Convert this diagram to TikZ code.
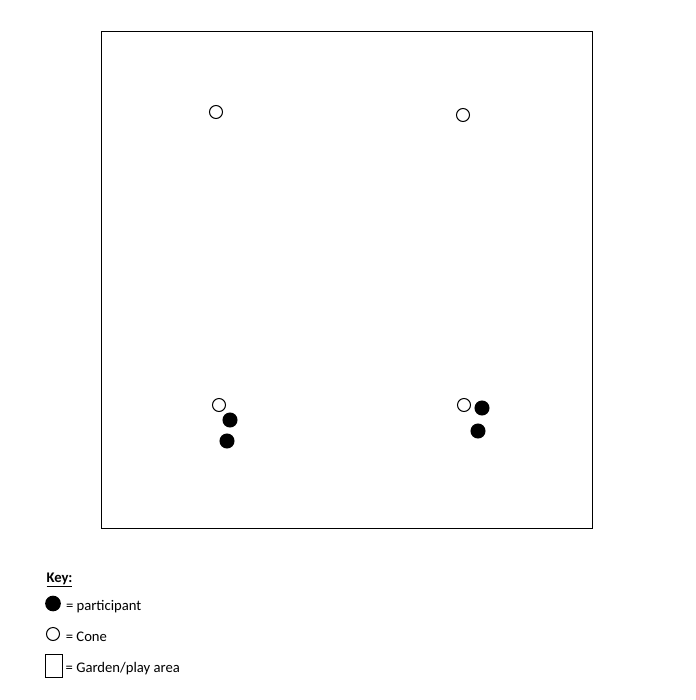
\documentclass[tikz,border=0pt]{standalone}
\usepackage{fontspec}
\setmainfont{Carlito}
\usetikzlibrary{positioning}
\begin{document}
\begin{tikzpicture}[x=0.75pt,y=-0.75pt,line width=0.75pt,
        font=\fontsize{11}{13}\selectfont]
        \tikzstyle{cone}=[circle,draw=black,fill=white,minimum size=9.75pt,inner sep=0pt]
        \tikzstyle{participant}=[circle,draw=black,fill=black,minimum size=10.5pt,inner sep=0pt]
        \tikzstyle{area}=[draw=black,inner sep=0pt]
        \tikzstyle{keytext}=[inner sep=0pt,yshift=-2.25pt]

        \useasboundingbox (0,0) rectangle (696,700);

        % Draw the garden/play area
        \node[area, minimum width=368.25pt, minimum height=372.75pt]
            (garden) at (346.5,279.5) {};

        % Draw the cones
        \foreach \id / \x / \y in {1/216/112, 2/463/115, 3/219/405, 4/464/405}
            \node[cone] (C-\id) at (\x,\y) {};

        % Draw the participants
        \foreach \id / \x / \y in {1/230/420, 2/227/441, 3/482/408, 4/478/431}
            \node[participant] (P-\id) at (\x,\y) {};

        % Key
        \node[keytext, anchor=west] (key) at (46,577) {\textbf{\underline{Key:}}};
        \node[participant, minimum size=11pt] (kP) at (53,603.5) {};
        \node[keytext, right=3.5pt of kP] {= participant};
        \node[cone] (kC) at (53,634) {};
        \node[keytext, right=4pt of kC] {= Cone};
        \node[area, minimum width=12.75pt, minimum height=17.25pt]
            (kA) at (53.5,665.5) {};
        \node[keytext, right=2pt of kA] {= Garden/play area};
    \end{tikzpicture}
\end{document}
